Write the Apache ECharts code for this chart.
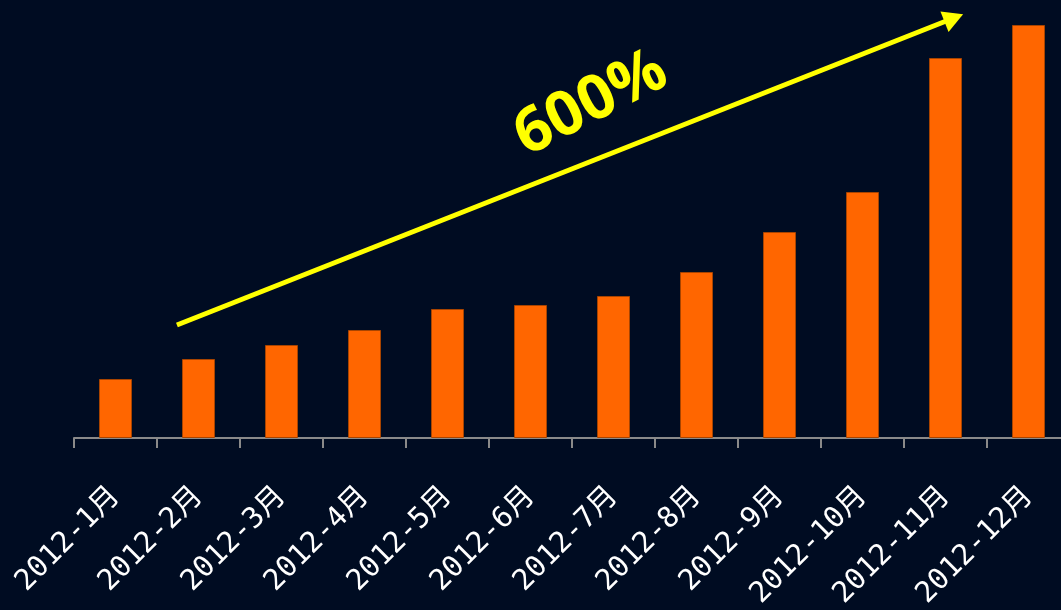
<!DOCTYPE html>
<html>
<head>
<meta charset="utf-8">
<script src="https://cdn.jsdelivr.net/npm/echarts@6/dist/echarts.min.js"></script>
<style>
  html, body { margin: 0; padding: 0; background: #000c22; }
  #main { width: 1061px; height: 610px; }
</style>
</head>
<body>
<div id="main"></div>
<script>
var months = ['2012-1月', '2012-2月', '2012-3月', '2012-4月', '2012-5月', '2012-6月',
  '2012-7月', '2012-8月', '2012-9月', '2012-10月', '2012-11月', '2012-12月'];
var sales = [59, 79, 93, 108, 129, 133, 142, 166, 206, 246, 380, 413];
// arrow start / end, in (month position, value)
var arrowFrom = [1.24, 113];
var arrowTo = [10.6, 420];

var chart = echarts.init(document.getElementById('main'), null, { renderer: 'canvas' });

chart.setOption({
  backgroundColor: '#000c22',
  animation: false,
  grid: { left: 74, width: 996, top: 8, bottom: 172, containLabel: false, outerBoundsMode: 'none' },
  xAxis: [
    {
      type: 'category',
      data: months,
      axisLine: { lineStyle: { color: '#8a8a8a', width: 2 } },
      axisTick: { show: true, length: 10, lineStyle: { color: '#8a8a8a', width: 2 } },
      axisLabel: {
        color: '#ffffff',
        fontSize: 29,
        fontFamily: 'DejaVu Sans Mono, Noto Sans CJK SC',
        rotate: 45,
        margin: 54,
        interval: 0
      }
    },
    {
      type: 'value',
      min: 0,
      max: 12,
      show: false
    }
  ],
  yAxis: {
    type: 'value',
    min: 0,
    max: 430,
    show: false,
    splitLine: { show: false }
  },
  series: [
    {
      type: 'bar',
      data: sales,
      barWidth: 33,
      itemStyle: { color: '#ff6600', borderColor: '#a84400', borderWidth: 1 }
    },
    {
      type: 'line',
      xAxisIndex: 1,
      data: [],
      markLine: {
        silent: true,
        symbol: ['none', 'triangle'],
        symbolSize: [22, 20],
        label: { show: false },
        lineStyle: { color: '#ffff00', width: 5, type: 'solid' },
        data: [[{ coord: arrowFrom }, { coord: arrowTo }]]
      }
    }
  ],
  graphic: [
    {
      type: 'text',
      x: 591,
      y: 104,
      rotation: 27 * Math.PI / 180,
      style: {
        text: '600%',
        fill: '#ffff00',
        font: 'bold 62px "Open Sans", "DejaVu Sans", sans-serif',
        align: 'center',
        verticalAlign: 'middle'
      }
    }
  ]
});
</script>
</body>
</html>
